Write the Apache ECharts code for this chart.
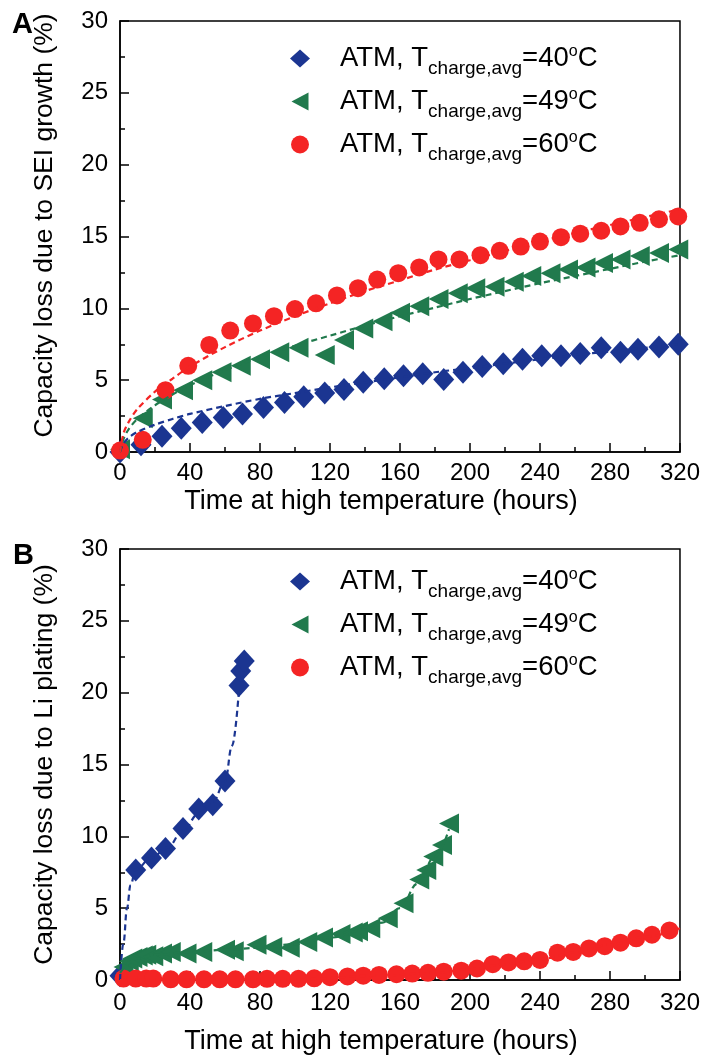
<!DOCTYPE html>
<html>
<head>
<meta charset="utf-8">
<script src="https://cdn.jsdelivr.net/npm/echarts@6/dist/echarts.min.js"></script>
<style>
  html, body { margin: 0; padding: 0; background: #fff; }
  #chart { width: 703px; height: 1057px; }
</style>
</head>
<body>
<div id="chart"></div>
<script>
// panel A: capacity loss due to SEI growth, [hours, %]
const seiT40 = [[0,0],[12,0.5],[24,1.1],[35,1.65],[47,2.05],[59,2.4],[70,2.65],[82,3.1],[94,3.45],[105,3.85],[117,4.1],[128,4.35],[139,4.85],[151,5.1],[162,5.3],[173,5.45],[185,5.05],[196,5.55],[207,5.95],[219,6.15],[230,6.45],[241,6.7],[252,6.7],[263,6.85],[275,7.25],[286,6.95],[296,7.15],[308,7.3],[319,7.5]]
const seiT49 = [[0,0.2],[13,2.35],[24,3.65],[36,4.3],[47,5.0],[58,5.55],[69,6.0],[80,6.45],[91,6.95],[102,7.25],[117,6.75],[128,7.8],[139,8.6],[150,9.1],[160,9.7],[171,10.15],[182,10.65],[193,11.05],[203,11.4],[214,11.5],[225,11.85],[235,12.25],[246,12.45],[256,12.7],[266,12.85],[276,13.15],[286,13.4],[297,13.65],[308,13.85],[319,14.1]]
const seiT60 = [[0,0.1],[13,0.85],[26,4.3],[39,6.0],[51,7.45],[63,8.45],[76,8.95],[88,9.45],[100,9.95],[112,10.35],[124,10.9],[136,11.4],[147,12.0],[159,12.45],[171,12.85],[182,13.4],[194,13.4],[206,13.7],[217,14.0],[229,14.3],[240,14.65],[252,14.95],[263,15.2],[275,15.4],[286,15.7],[297,15.95],[308,16.2],[319,16.4]]
// dashed fit curves
const seiFit40 = [[0,0],[2,0.6],[5,1.0],[10,1.4],[20,1.9],[30,2.3],[40,2.65],[60,3.2],[80,3.7],[100,4.1],[120,4.5],[140,4.85],[160,5.2],[180,5.55],[200,5.85],[220,6.15],[240,6.45],[260,6.75],[280,7.0],[300,7.25],[320,7.5]]
const seiFit49 = [[0,0],[2,0.9],[5,1.6],[10,2.3],[20,3.25],[30,4.0],[40,4.65],[60,5.7],[80,6.6],[100,7.4],[120,8.1],[140,8.8],[160,9.45],[180,10.05],[200,10.65],[220,11.2],[240,11.75],[260,12.25],[280,12.75],[300,13.25],[320,13.7]]
const seiFit60 = [[0,0],[2,1.3],[5,2.1],[10,3.0],[20,4.2],[30,5.1],[40,5.95],[60,7.3],[80,8.45],[100,9.45],[120,10.35],[140,11.2],[160,11.95],[180,12.7],[200,13.35],[220,14.0],[240,14.65],[260,15.25],[280,15.8],[300,16.35],[320,16.9]]

// panel B: capacity loss due to Li plating, [hours, %]
const liT40 = [[0,0.3],[9,7.65],[18,8.5],[26,9.15],[36,10.55],[45,11.9],[53,12.2],[60,13.85],[68,20.5],[69,21.5],[71,22.2]]
const liT49 = [[2,0.9],[5,1.3],[7,1.5],[10,1.6],[13,1.7],[15,1.75],[19,1.65],[24,1.85],[29,1.95],[38,1.85],[47,1.95],[60,2.1],[65,2.0],[78,2.45],[87,2.3],[97,2.25],[107,2.65],[116,2.95],[126,3.2],[133,3.3],[136,3.4],[143,3.6],[153,4.3],[162,5.35],[171,7.0],[175,7.65],[179,8.6],[184,9.4],[188,10.9]]
const liT60 = [[2,0.1],[9,0.1],[15,0.1],[19,0.1],[29,0.05],[38,0.05],[48,0.05],[57,0.05],[66,0.05],[76,0.05],[84,0.08],[93,0.08],[102,0.08],[111,0.12],[120,0.2],[130,0.25],[139,0.3],[148,0.35],[158,0.4],[167,0.45],[176,0.5],[185,0.58],[195,0.65],[204,0.8],[213,1.1],[222,1.22],[231,1.3],[240,1.4],[250,1.9],[259,1.95],[268,2.2],[277,2.35],[286,2.6],[295,2.9],[304,3.15],[314,3.45]]
const liFit40 = [[0,0],[2,2.6],[4,5.0],[6,6.6],[9,7.7],[18,8.5],[27,9.2],[36,10.4],[45,11.6],[53,12.4],[60,13.8],[64,16.3],[68,20.2]]
const liFit49 = [[0,0.5],[10,1.5],[20,1.75],[40,1.95],[60,2.1],[80,2.25],[100,2.5],[120,2.95],[140,3.5],[150,4.0],[160,5.0],[170,6.7],[180,8.6],[188,10.5]]
const liFit60 = [[0,0],[100,0.05],[150,0.3],[180,0.5],[200,0.75],[220,1.1],[240,1.45],[260,1.9],[280,2.45],[300,3.0],[320,3.6]]

const seriesNames = ['ATM, Tcharge,avg=40oC', 'ATM, Tcharge,avg=49oC', 'ATM, Tcharge,avg=60oC']
const temps = ['40', '49', '60']
const colors = ['#1b3591', '#217a4d', '#f42424']
const symbols = ['diamond', 'triangle', 'circle']
const symbolSizes = [[21, 23], [20, 20], 18]
const symbolRotates = [0, 90, 0]
const legendIcons = ['diamond', 'path://M0,9 L17,0 L17,18 Z', 'circle']

const font = 'Liberation Sans, Arial, sans-serif'

const chart = echarts.init(document.getElementById('chart'))

function xAxisFor(grid, margin, gap) {
  return {
    gridIndex: grid,
    type: 'value',
    min: 0,
    max: 320,
    interval: 40,
    name: 'Time at high temperature (hours)',
    nameLocation: 'middle',
    nameGap: gap,
    // the title sits a little left of the plot centre
    nameTextStyle: { fontFamily: font, fontSize: 27, color: '#000', padding: [0, 38, 0, 0] },
    axisLine: { onZero: false, lineStyle: { color: '#000', width: 1.5 } },
    axisTick: { inside: true, length: 9, lineStyle: { color: '#000', width: 1.5 } },
    minorTick: { show: true, splitNumber: 2, length: 5, lineStyle: { color: '#000', width: 1.5 } },
    splitLine: { show: false },
    axisLabel: { margin: margin, fontFamily: font, fontSize: 24, color: '#000' }
  }
}

function yAxisFor(grid, name, shift) {
  return {
    gridIndex: grid,
    type: 'value',
    min: 0,
    max: 30,
    interval: 5,
    name: name,
    nameLocation: 'middle',
    nameGap: 62,
    nameTextStyle: { fontFamily: font, fontSize: 26.5, color: '#000', padding: [0, 0, 0, shift] },
    axisLine: { onZero: false, lineStyle: { color: '#000', width: 1.5 } },
    axisTick: { inside: true, length: 9, lineStyle: { color: '#000', width: 1.5 } },
    minorTick: { show: true, splitNumber: 2, length: 5, lineStyle: { color: '#000', width: 1.5 } },
    splitLine: { show: false },
    axisLabel: { margin: 12, fontFamily: font, fontSize: 24, color: '#000' }
  }
}

function legendFor(top) {
  return {
    orient: 'vertical',
    left: 290,
    top: top,
    padding: 0,
    itemWidth: 20,
    itemHeight: 18,
    itemGap: 4,
    data: seriesNames.map(function (n, i) { return { name: n, icon: legendIcons[i] } }),
    formatter: function (name) {
      const t = temps[seriesNames.indexOf(name)]
      return '{m|ATM, T}{sub|charge,avg}{n|=' + t + '}{sup|o}{n|C}'
    },
    textStyle: {
      fontFamily: font,
      color: '#000',
      rich: {
        m: { fontFamily: font, fontSize: 27.5, lineHeight: 27, padding: [0, 0, 0, 25] },
        n: { fontFamily: font, fontSize: 27.5, lineHeight: 27 },
        sub: { fontFamily: font, fontSize: 19, lineHeight: 19, padding: [20, 0, 0, 0] },
        sup: { fontFamily: font, fontSize: 16, lineHeight: 16, padding: [0, 0, 13, 0] }
      }
    }
  }
}

const panels = [
  { pts: [seiT40, seiT49, seiT60], fits: [seiFit40, seiFit49, seiFit60] },
  { pts: [liT40, liT49, liT60], fits: [liFit40, liFit49, liFit60] }
]

const series = []
panels.forEach(function (p, g) {
  p.pts.forEach(function (d, i) {
    series.push({
      name: seriesNames[i],
      type: 'scatter',
      xAxisIndex: g,
      yAxisIndex: g,
      symbol: symbols[i],
      symbolSize: symbolSizes[i],
      symbolRotate: symbolRotates[i],
      itemStyle: { color: colors[i], opacity: 1 },
      data: d
    })
  })
})
panels.forEach(function (p, g) {
  p.fits.forEach(function (d, i) {
    series.push({
      name: 'fit' + g + i,
      type: 'line',
      xAxisIndex: g,
      yAxisIndex: g,
      smooth: g === 0 ? 0.3 : 0.4,
      smoothMonotone: g === 0 ? null : 'x',
      showSymbol: false,
      clip: false,
      lineStyle: { color: colors[i], width: 2.2, type: [6, 4] },
      data: d,
      z: 3
    })
  })
})

chart.setOption({
  backgroundColor: '#fff',
  animation: false,
  title: [
    { text: 'A', left: 12, top: 10, padding: 0, textStyle: { fontFamily: font, fontSize: 29, fontWeight: 'bold', color: '#000' } },
    { text: 'B', left: 13, top: 541, padding: 0, textStyle: { fontFamily: font, fontSize: 29, fontWeight: 'bold', color: '#000' } }
  ],
  grid: [
    { left: 120, top: 21, width: 560, height: 431, show: true, borderColor: '#000', borderWidth: 1.5, backgroundColor: 'transparent' },
    { left: 120, top: 549, width: 560, height: 431, show: true, borderColor: '#000', borderWidth: 1.5, backgroundColor: 'transparent' }
  ],
  legend: [legendFor(39), legendFor(562)],
  xAxis: [xAxisFor(0, 9, 36), xAxisFor(1, 11, 48)],
  yAxis: [
    yAxisFor(0, 'Capacity loss due to SEI growth (%)', 22),
    yAxisFor(1, 'Capacity loss due to Li plating (%)', 0)
  ],
  series: series
})
</script>
</body>
</html>
